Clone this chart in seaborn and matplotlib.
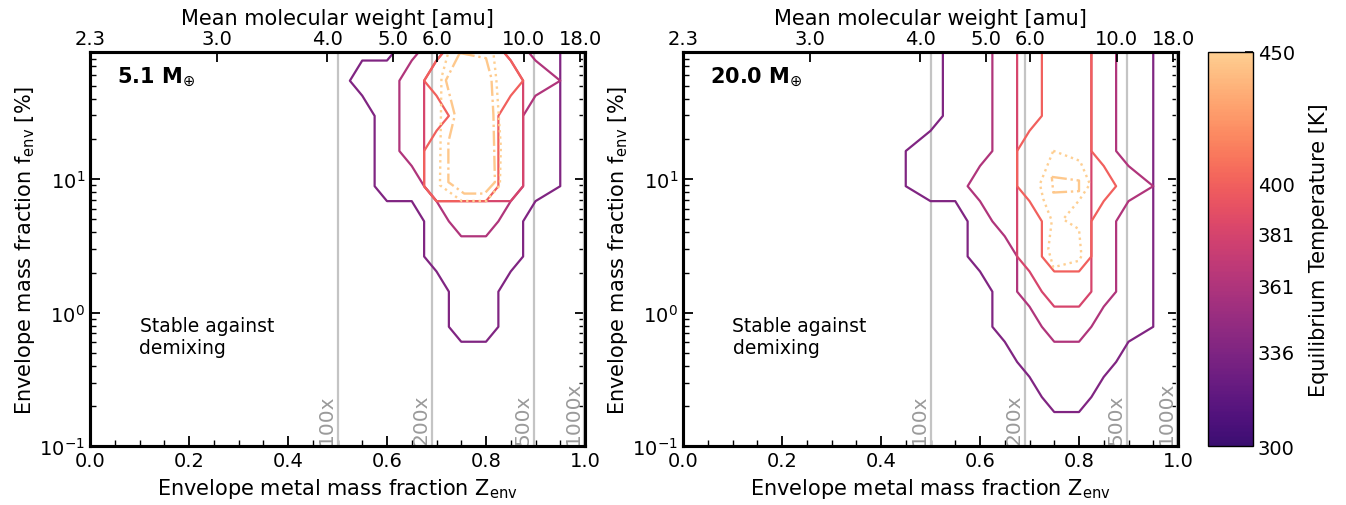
import numpy as np
import matplotlib
matplotlib.use("Agg")
import matplotlib.pyplot as plt
import seaborn as sns
from matplotlib.colors import ListedColormap, Normalize
from matplotlib.cm import ScalarMappable
from matplotlib.ticker import FixedLocator, NullLocator, MultipleLocator

# ---------------- data ----------------
# grid nodes of the model grid (Z_env and f_env [%])
Z_NODES = [0.3, 0.4, 0.5, 0.55, 0.6, 0.65, 0.7, 0.75, 0.8, 0.85, 0.9, 1.0]
F_NODES = [0.1274, 0.2336, 0.4281, 0.7848, 1.438, 2.637, 4.833, 8.859,
           16.24, 29.76, 54.56, 100.0]

T_SOLID = [336, 361, 381, 400]
T_DOT = 450
T_DASH = 446

# for every f node row (bottom -> top): range of Z nodes inside the contour
ROWS_5 = {
    336: [None, None, None, (0.75, 0.8), (0.75, 0.8), (0.7, 0.85), (0.7, 0.85),
          (0.6, 0.9), (0.6, 0.9), (0.6, 0.9), (0.55, 0.9), (0.65, 0.9)],
    361: [None, None, None, None, None, None, (0.75, 0.8), (0.7, 0.85),
          (0.65, 0.85), (0.65, 0.85), (0.65, 0.9), (0.7, 0.85)],
    381: [None, None, None, None, None, None, None, (0.7, 0.85),
          (0.7, 0.85), (0.7, 0.85), (0.7, 0.85), (0.75, 0.8)],
    400: [None, None, None, None, None, None, None, (0.7, 0.8),
          (0.7, 0.8), (0.75, 0.8), (0.7, 0.85), (0.75, 0.8)],
}
ROWS_20 = {
    336: [None, (0.75, 0.8), (0.7, 0.85), (0.65, 0.9), (0.65, 0.9), (0.6, 0.9),
          (0.6, 0.9), (0.5, 0.9), (0.5, 0.9), (0.55, 0.9), (0.55, 0.9), (0.55, 0.9)],
    361: [None, None, None, (0.75, 0.8), (0.7, 0.85), (0.7, 0.85), (0.65, 0.85),
          (0.6, 0.9), (0.65, 0.85), (0.65, 0.85), (0.65, 0.85), (0.65, 0.85)],
    381: [None, None, None, None, (0.75, 0.8), (0.7, 0.8), (0.7, 0.8),
          (0.7, 0.8), (0.7, 0.8), (0.7, 0.8), (0.7, 0.8), (0.7, 0.8)],
    400: [None, None, None, None, None, (0.75, 0.8), (0.75, 0.8), (0.7, 0.85),
          (0.7, 0.8), (0.75, 0.8), (0.75, 0.8), (0.75, 0.8)],
}

# hottest contours (dotted / dash-dot), read as (Z, f[%]) vertices
DOT_5_Z = [0.726, 0.710, 0.707, 0.751, 0.801, 0.828, 0.830, 0.821, 0.814]
DOT_5_F = [95.0, 57.5, 9.0, 6.87, 6.87, 9.0, 17.4, 55.0, 95.0]
DASH_5_Z = [0.747, 0.800, 0.811, 0.815, 0.818, 0.797, 0.756, 0.724, 0.724, 0.737, 0.719, 0.747]
DASH_5_F = [88.0, 80.5, 56.7, 30.1, 9.5, 7.8, 7.8, 9.5, 19.0, 30.1, 55.0, 88.0]

DOT_20_Z = [0.748, 0.802, 0.822, 0.800, 0.768, 0.800, 0.805, 0.800, 0.748, 0.738, 0.745, 0.728, 0.721, 0.748]
DOT_20_F = [16.3, 13.7, 9.18, 6.92, 5.01, 4.22, 2.66, 2.45, 2.19, 2.99, 4.88, 7.08, 9.18, 16.3]
DASH_20_Z = [0.745, 0.800, 0.800, 0.748, 0.745]
DASH_20_F = [10.4, 9.77, 8.13, 7.94, 10.4]

METAL_Z = [0.5, 0.69, 0.896, 0.998]
METAL_LABELS = ["100x", "200x", "500x", "1000x"]

MU_LABELS = ["2.3", "3.0", "4.0", "5.0", "6.0", "10.0", "18.0"]
MU_TICK_Z = [0.0, 0.256, 0.479, 0.613, 0.702, 0.876, 0.99]

CBAR_TICKS = [300, 336, 361, 381, 400, 450]
MASSES = ["5.1", "20.0"]

# ---------------- style ----------------
sns.set_theme(style="ticks", rc={
    "axes.edgecolor": "black", "text.color": "black", "axes.labelcolor": "black",
    "xtick.color": "black", "ytick.color": "black"})
plt.rcParams["font.family"] = ["DejaVu Sans"]

base = sns.color_palette("magma", as_cmap=True)
cmap = ListedColormap(base(np.linspace(0.2, 0.9, 256)))
norm = Normalize(300, 450)


def grid_from_rows(rows):
    zn = np.array(Z_NODES)
    g = np.zeros((len(F_NODES), len(Z_NODES)))
    for i, r in enumerate(rows):
        if r is not None:
            g[i] = ((zn >= r[0] - 1e-9) & (zn <= r[1] + 1e-9)).astype(float)
    return g


fig = plt.figure(figsize=(13.46, 5.06), dpi=100)
W, H = 1346.0, 506.0
bottom = (H - 447.3) / H
height = 394.6 / H
axes = [fig.add_axes([90 / W, bottom, 495 / W, height]),
        fig.add_axes([683 / W, bottom, 495 / W, height])]
cax = fig.add_axes([1208 / W, bottom, 45 / W, height])

panels = [
    (MASSES[0], ROWS_5, (DOT_5_Z, DOT_5_F), (DASH_5_Z, DASH_5_F)),
    (MASSES[1], ROWS_20, (DOT_20_Z, DOT_20_F), (DASH_20_Z, DASH_20_F)),
]

for ax, (mass, rows, dot, dash) in zip(axes, panels):
    ax.set_yscale("log")
    ax.set_xlim(0, 1)
    ax.set_ylim(0.1, 90)

    for z, lab in zip(METAL_Z, METAL_LABELS):
        ax.axvline(z, color="#c4c4c4", lw=1.6, zorder=1)
        ax.text(z - 0.003, 0.104, lab, rotation=90, ha="right", va="bottom",
                color="#9a9a9a", fontsize=14.5, zorder=1)

    for T in T_SOLID:
        g = grid_from_rows(rows[T])
        ax.contour(Z_NODES, F_NODES, g, levels=[0.5], colors=[cmap(norm(T))],
                   linewidths=1.6, zorder=3)

    ax.plot(dot[0], dot[1], color=cmap(norm(T_DOT)), ls=":", lw=1.7, zorder=4)
    ax.plot(dash[0], dash[1], color=cmap(norm(T_DASH)), ls="-.", lw=1.7, zorder=4)

    ax.text(0.055, 0.923, mass + r" M$_{\oplus}$", transform=ax.transAxes,
            fontsize=15, fontweight="bold", va="baseline", ha="left")
    ax.text(0.1, 0.95, "Stable against\ndemixing", fontsize=13.5, va="top", ha="left")

    ax.set_xlabel(r"Envelope metal mass fraction Z$_{\rm env}$", fontsize=15, labelpad=4)
    ax.set_ylabel(r"Envelope mass fraction f$_{\rm env}$ [%]", fontsize=15, labelpad=2)
    ax.set_xticks([0.0, 0.2, 0.4, 0.6, 0.8, 1.0])
    ax.xaxis.set_minor_locator(MultipleLocator(0.05))
    ax.tick_params(which="both", direction="in", top=False, right=True, labelsize=14)
    ax.tick_params(which="major", length=7, width=1.3)
    ax.tick_params(which="minor", length=4, width=1.0)

    ax2 = ax.twiny()
    ax2.set_xlim(0, 1)
    ax2.set_xticks(MU_TICK_Z)
    ax2.set_xticklabels(MU_LABELS)
    ax2.xaxis.set_minor_locator(NullLocator())
    ax2.tick_params(which="major", direction="in", length=7, width=1.3, labelsize=14, pad=3)
    ax2.set_xlabel("Mean molecular weight [amu]", fontsize=15, labelpad=3)
    for a in (ax, ax2):
        for s in a.spines.values():
            s.set_linewidth(2.2)

cb = fig.colorbar(ScalarMappable(norm=norm, cmap=cmap), cax=cax)
cb.set_ticks(CBAR_TICKS)
cb.set_ticklabels([str(t) for t in CBAR_TICKS])
cax.yaxis.set_minor_locator(FixedLocator(list(range(300, 451, 9))))
cax.tick_params(which="both", direction="in", labelsize=14)
cax.tick_params(which="major", length=6, width=1.2)
cax.tick_params(which="minor", length=4, width=1.0)
cb.set_label("Equilibrium Temperature [K]", fontsize=15, labelpad=10)
cb.outline.set_linewidth(1.0)

fig.savefig("out.png", dpi=100)
